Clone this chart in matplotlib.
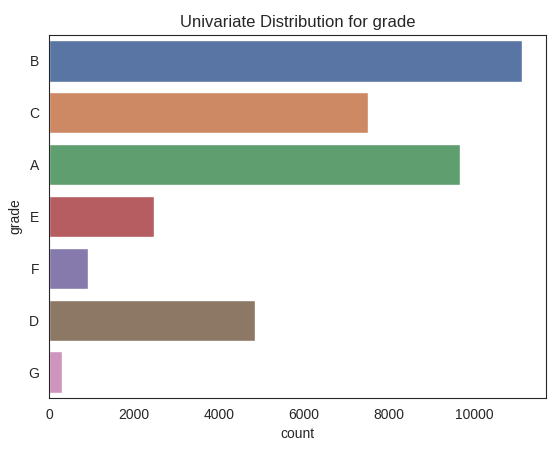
import matplotlib
matplotlib.use("Agg")
import matplotlib.pyplot as plt
import seaborn as sns

grades = ["B", "C", "A", "E", "F", "D", "G"]
counts = [11130, 7500, 9660, 2470, 920, 4850, 300]

sns.set_style("white")
plt.rcParams['font.family'] = ['Liberation Sans', 'DejaVu Sans']
fig, ax = plt.subplots(figsize=(5.56, 4.53), dpi=100)
sns.barplot(x=counts, y=grades, hue=grades, palette="deep", legend=False, ax=ax, orient="h")
ax.set_title("Univariate Distribution for grade")
ax.set_xlabel("count")
ax.set_ylabel("grade")
fig.subplots_adjust(left=0.088, right=0.982, top=0.923, bottom=0.121)
fig.savefig("out.png")
